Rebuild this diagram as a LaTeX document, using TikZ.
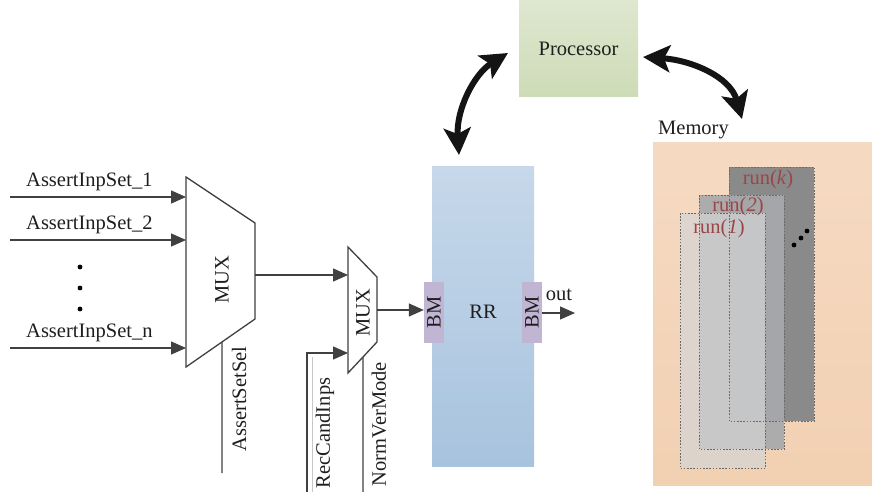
\documentclass[tikz,border=0pt]{standalone}
\usepackage{fontspec}
\setmainfont{Liberation Serif}
\usetikzlibrary{arrows.meta,calc}
\definecolor{wirec}{RGB}{64,64,64}
\definecolor{txtc}{RGB}{30,30,30}
\definecolor{rrtop}{RGB}{198,216,234}
\definecolor{rrbot}{RGB}{168,195,222}
\definecolor{bmc}{RGB}{192,181,211}
\definecolor{proctop}{RGB}{223,231,208}
\definecolor{procbot}{RGB}{205,219,182}
\definecolor{memtop}{RGB}{245,218,194}
\definecolor{membot}{RGB}{242,208,178}
\definecolor{runkc}{RGB}{138,138,138}
\definecolor{runtwoc}{RGB}{168,169,172}
\definecolor{runonec}{RGB}{212,212,214}
\definecolor{runtxt}{RGB}{155,70,70}
\definecolor{edgec}{RGB}{105,105,105}
\begin{document}
\begin{tikzpicture}[x=1pt,y=-1pt,
  font=\fontsize{20.5}{24}\selectfont, text=txtc,
  wire/.style={draw=wirec, line width=1.3pt},
  sig/.style={wire, -{Triangle[length=15pt,width=13pt]}, fill=none},
  link/.style={draw=black!92, line width=6pt,
    {Stealth[length=27pt,width=27pt,inset=6pt]}-{Stealth[length=27pt,width=27pt,inset=6pt]}},
  block/.style={rectangle, inner sep=0pt, draw=none},
  runbox/.style={rectangle, inner sep=0pt, anchor=north west,
    minimum width=85pt, minimum height=254pt},
  runedge/.style={draw=edgec, line width=0.9pt, dash pattern=on 1.6pt off 1.6pt},
  runlabel/.style={text=runtxt},
  vlabel/.style={rotate=90, inner sep=0pt},
  blob/.style={circle, fill=black, inner sep=0pt, minimum size=4.8pt}]
\useasboundingbox (0,0) rectangle (872,492);

% ---------- processor ----------
\node[block, top color=proctop, bottom color=procbot,
  minimum width=119pt, minimum height=96pt] (proc) at (578.5,49) {Processor};

% ---------- reconfigurable region ----------
\node[block, top color=rrtop, bottom color=rrbot,
  minimum width=102pt, minimum height=300pt] (rr) at (483,316) {};
\node (rrlabel) at (483,312) {RR};
\node[block, fill=bmc, minimum width=20pt, minimum height=61pt] (bm1) at (434,312.5) {\rotatebox{90}{BM}};
\node[block, fill=bmc, minimum width=20pt, minimum height=61pt] (bm2) at (532,312.5) {\rotatebox{90}{BM}};

% ---------- memory ----------
\node[block, top color=memtop, bottom color=membot, anchor=north west,
  minimum width=219pt, minimum height=343pt] (mem) at (653,142) {};
\node[anchor=base west, inner sep=0pt] (memlabel) at (658,135) {Memory};

\node[runbox, fill=runkc] (runk) at (729,167) {};
\node[runbox, fill=runtwoc, fill opacity=0.92] (runtwo) at (699,195) {};
\node[runbox, fill=runonec, fill opacity=0.7, minimum height=255pt] (runone) at (680,213) {};
\draw[runedge] (runk.north west) rectangle (runk.south east);
\draw[runedge] (runtwo.north west) rectangle (runtwo.south east);
\draw[runedge] (runone.north west) rectangle (runone.south east);
\node[runlabel] (lk) at (768,180) {run(\textit{k})};
\node[runlabel] (ltwo) at (738,207) {run(\textit{2})};
\node[runlabel] (lone) at (719,229) {run(\textit{1})};
\node[blob] (d1) at (794,245) {};
\node[blob] (d2) at (801,238) {};
\node[blob] (d3) at (807,231) {};

% ---------- processor links ----------
\coordinate (pa) at (459,155);
\coordinate (pb) at (508,53);
\coordinate (pc) at (643,57);
\coordinate (pd) at (742,119);
\draw[link] (pa) .. controls (456,110) and (474,74) .. (pb);
\draw[link] (pc) .. controls (690,60) and (730,76) .. (pd);

% ---------- first multiplexer ----------
\coordinate (m1a) at (186,177);
\coordinate (m1b) at (255,223);
\coordinate (m1c) at (255,319);
\coordinate (m1d) at (186,367);
\draw[wire, fill=white] (m1a) -- (m1b) -- (m1c) -- (m1d) -- cycle;
\node[rotate=90] (mux1) at (222,280) {MUX};

\coordinate (in1) at (10,197);
\coordinate (in2) at (10,240);
\coordinate (inn) at (10,348);
\draw[sig] (in1) -- (in1 -| m1a);
\draw[sig] (in2) -- (in2 -| m1a);
\draw[sig] (inn) -- (inn -| m1a);
\node[anchor=base west, inner sep=0pt] (l1) at (26,186) {AssertInpSet\_1};
\node[anchor=base west, inner sep=0pt] (l2) at (26,229) {AssertInpSet\_2};
\node[anchor=base west, inner sep=0pt] (ln) at (26,337) {AssertInpSet\_n};
\node[blob] (v1) at (80,267) {};
\node[blob] (v2) at (80,288) {};
\node[blob] (v3) at (80,309) {};

\coordinate (selbot) at (222,473);
\coordinate (seltop) at ($(m1d)!{36/69}!(m1c)$);
\draw[wire] (selbot) -- (seltop);
\node[vlabel] (sellabel) at (239,399) {AssertSetSel};

% ---------- second multiplexer ----------
\coordinate (m2a) at (348,247);
\coordinate (m2b) at (377,277);
\coordinate (m2c) at (377,342);
\coordinate (m2d) at (348,373);
\draw[wire, fill=white] (m2a) -- (m2b) -- (m2c) -- (m2d) -- cycle;
\node[rotate=90] (mux2) at (363,313) {MUX};

\coordinate (m1out) at (255,275);
\draw[sig] (m1out) -- (m1out -| m2a);

\coordinate (rcbot) at (307,492);
\coordinate (rcin) at (348,353);
\draw[sig] (rcbot) |- (rcin);
\draw[draw=black!22, line width=0.9pt] (312,357) -- (312,492);
\node[vlabel] (rclabel) at (325,433) {RecCandInps};

\coordinate (nvbot) at (363,492);
\coordinate (nvtop) at ($(m2d)!{15/29}!(m2c)$);
\draw[wire] (nvbot) -- (nvtop);
\node[vlabel] (nvlabel) at (379,424) {NormVerMode};

\coordinate (m2out) at (377,310);
\draw[sig] (m2out) -- (m2out -| bm1.west);

% ---------- output ----------
\coordinate (outend) at (575,313);
\draw[sig] (bm2.east |- outend) -- (outend);
\node (outlabel) at (559,295) {out};
\end{tikzpicture}
\end{document}
